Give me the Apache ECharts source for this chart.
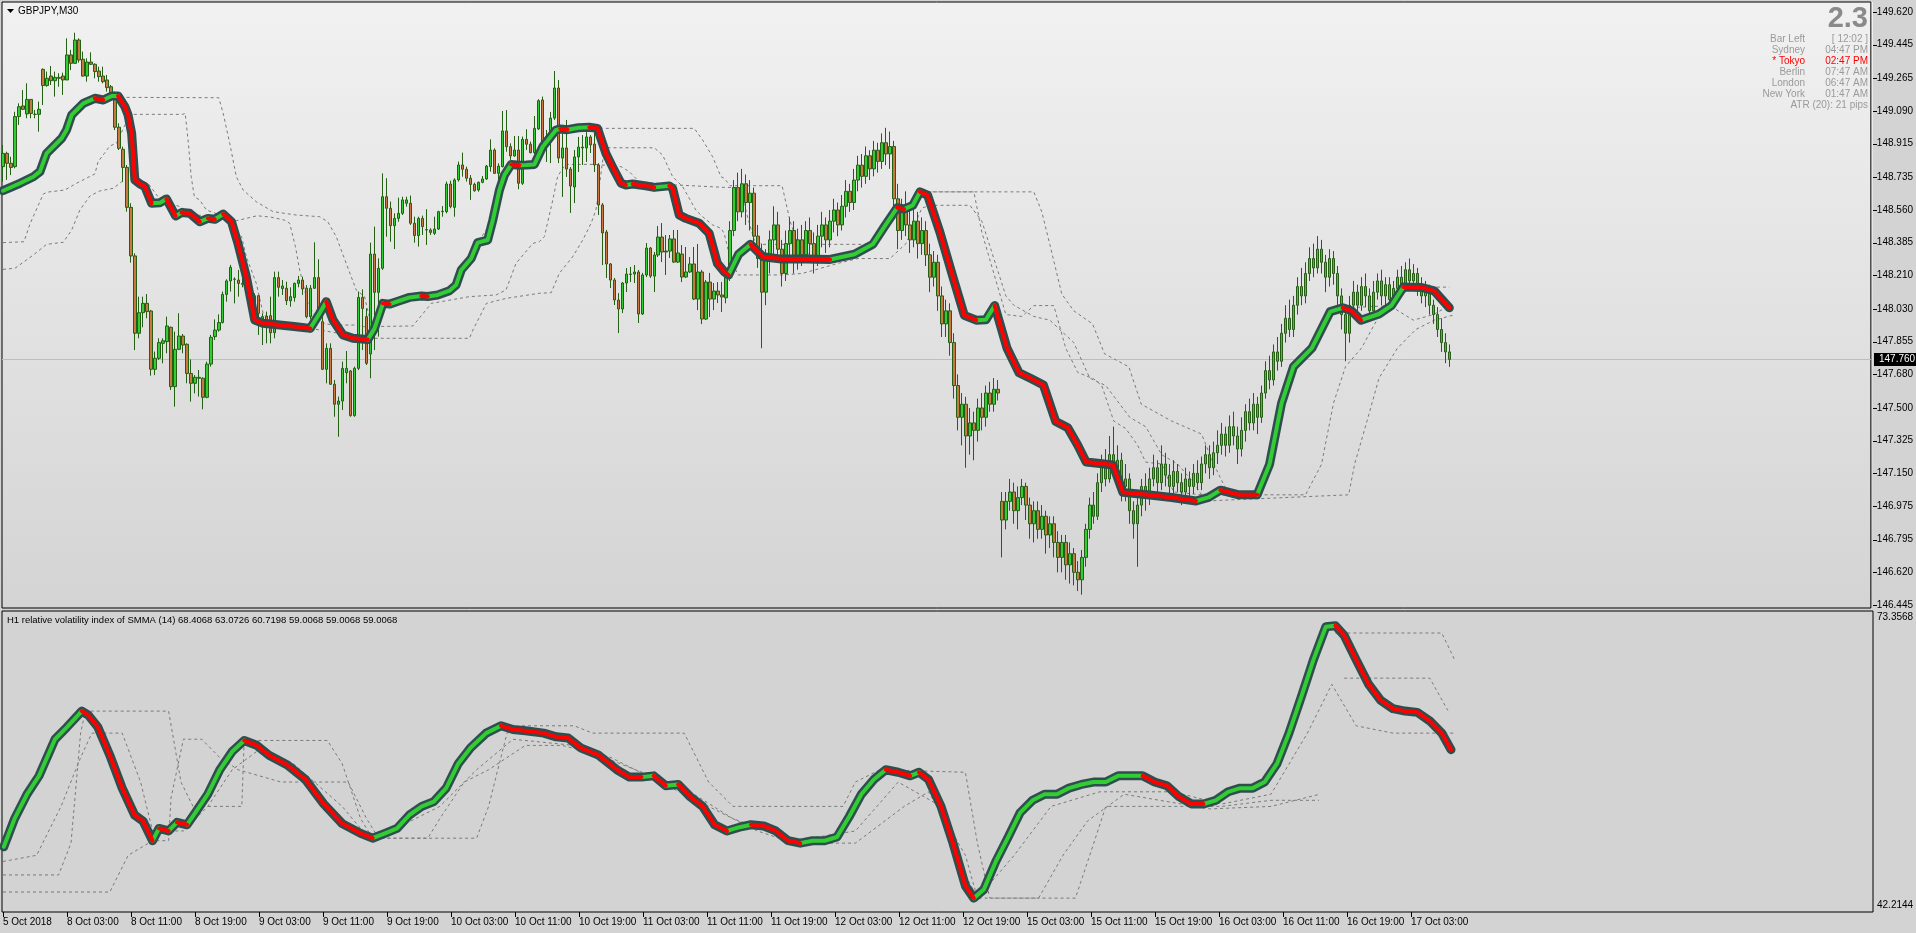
<!DOCTYPE html>
<html><head><meta charset="utf-8">
<script src="https://cdn.jsdelivr.net/npm/echarts@6.0.0/dist/echarts.min.js"></script>
<style>html,body{margin:0;padding:0;background:#d3d3d3;overflow:hidden}#c{width:1916px;height:933px}</style>
</head><body><div id="c"></div>
<script>
// ---------------- data ----------------
const opens=[148.792,148.863,148.810,148.792,149.060,149.117,149.074,149.152,149.072,149.072,
149.313,149.226,149.277,149.252,149.265,149.277,149.256,149.390,149.345,149.470,
149.367,149.277,149.352,149.340,149.304,149.277,149.256,149.220,149.188,149.003,
148.885,148.788,148.574,148.314,147.900,148.010,148.060,148.019,147.707,147.766,
147.846,147.855,147.932,147.614,147.814,147.885,147.841,147.685,147.632,147.659,
147.659,147.557,147.735,147.882,147.917,147.957,148.108,148.180,148.190,148.185,
148.167,148.162,148.135,148.060,148.101,147.974,147.992,147.994,147.903,148.198,
148.139,148.141,148.074,148.091,148.167,148.185,148.141,147.989,148.141,148.198,
147.962,147.707,147.819,147.627,147.520,147.537,147.689,147.698,147.459,147.712,
148.092,147.989,147.789,148.324,148.119,148.248,148.631,148.569,148.476,148.515,
148.542,148.596,148.596,148.489,148.423,148.515,148.455,148.453,148.435,148.458,
148.551,148.551,148.699,148.574,148.721,148.801,148.778,148.730,148.697,148.667,
148.708,148.726,148.792,148.881,148.756,148.792,148.983,148.899,148.849,148.881,
148.703,148.938,148.912,148.867,148.994,149.149,148.913,148.951,149.052,149.213,
148.838,148.892,148.779,148.683,148.844,148.897,148.892,148.951,148.913,148.801,
148.587,148.442,148.271,148.185,148.078,148.030,148.169,148.217,148.217,148.228,
148.003,148.212,148.356,148.206,148.319,148.415,148.340,148.340,148.405,148.281,
148.324,148.201,148.228,148.271,148.083,148.228,147.976,148.174,148.083,148.126,
148.105,148.09,148.20,148.45,148.68,148.55,148.70,148.60,148.65,148.42,
148.30,148.12,148.30,148.40,148.48,148.35,148.22,148.38,148.45,148.30,
148.40,148.32,148.45,148.38,148.30,148.42,148.48,148.40,148.50,148.56,
148.48,148.58,148.66,148.60,148.72,148.80,148.74,148.85,148.78,148.88,
148.82,148.92,148.86,148.90,148.62,148.45,148.55,148.48,148.40,148.50,
148.38,148.45,148.32,148.20,148.28,148.10,147.95,148.02,147.85,147.62,
147.45,147.52,147.35,147.42,147.38,147.50,147.45,147.58,147.52,147.60,
147.00,146.90,147.00,147.05,146.95,147.02,147.08,146.98,146.88,146.95,
146.85,146.92,146.82,146.88,146.78,146.70,146.78,146.66,146.72,146.62,
146.58,146.70,146.85,146.98,146.92,147.10,147.20,147.12,147.25,147.18,
147.22,147.08,147.12,146.95,146.88,146.98,147.08,147.02,147.12,147.18,
147.10,147.20,147.14,147.08,147.16,147.10,147.05,147.12,147.08,147.15,
147.10,147.20,147.25,147.18,147.26,147.30,147.36,147.30,147.40,147.35,
147.28,147.38,147.48,147.42,147.52,147.45,147.58,147.70,147.65,147.80,
147.75,147.90,147.98,147.92,148.05,148.15,148.10,148.22,148.30,148.25,
148.35,148.28,148.20,148.30,148.22,148.10,148.00,147.90,148.05,148.12,
148.05,148.15,148.10,148.02,148.12,148.18,148.10,148.16,148.08,148.14,
148.20,148.15,148.24,148.18,148.22,148.16,148.10,148.14,148.05,148.00,
147.92,147.85,147.80];
const highs=[148.908,148.872,148.845,149.086,149.131,149.202,149.238,149.152,149.095,149.140,
149.318,149.301,149.331,149.301,149.292,149.295,149.479,149.417,149.509,149.479,
149.408,149.372,149.404,149.345,149.327,149.327,149.283,149.229,149.194,149.024,
148.899,148.801,148.596,148.328,148.096,148.096,148.110,148.025,147.802,147.873,
147.873,147.989,147.935,147.909,148.007,147.896,147.846,147.760,147.676,147.703,
147.664,147.748,147.891,147.974,148.001,148.123,148.189,148.266,148.199,148.239,
148.203,148.171,148.146,148.114,148.105,148.007,148.016,148.096,148.230,148.230,
148.185,148.176,148.146,148.171,148.207,148.203,148.158,148.158,148.387,148.296,
148.007,147.846,147.846,147.650,147.561,147.748,147.805,147.703,147.721,148.123,
148.135,148.033,148.385,148.471,148.301,148.756,148.730,148.605,148.542,148.626,
148.631,148.631,148.637,148.524,148.524,148.530,148.564,148.462,148.524,148.556,
148.581,148.712,148.717,148.730,148.819,148.867,148.792,148.747,148.706,148.712,
148.742,148.801,148.938,148.890,148.810,149.090,149.095,148.917,148.956,148.956,
148.953,148.992,148.926,149.063,149.153,149.167,148.988,149.085,149.304,149.256,
148.972,149.042,148.790,148.881,148.951,148.961,148.977,148.961,148.977,148.811,
148.597,148.453,148.276,148.196,148.115,148.174,148.249,148.255,148.265,148.239,
148.223,148.383,148.362,148.335,148.474,148.490,148.426,148.426,148.453,148.453,
148.372,148.362,148.308,148.362,148.378,148.239,148.185,148.223,148.169,148.174,
148.174,148.25,148.50,148.72,148.76,148.78,148.75,148.72,148.68,148.48,
148.38,148.35,148.45,148.58,148.55,148.40,148.45,148.52,148.50,148.46,
148.48,148.50,148.52,148.44,148.48,148.55,148.52,148.56,148.62,148.60,
148.64,148.72,148.70,148.78,148.85,148.86,148.90,148.88,148.93,148.92,
148.97,149.00,148.98,148.93,148.70,148.62,148.66,148.56,148.58,148.55,
148.52,148.50,148.38,148.34,148.32,148.15,148.08,148.06,147.90,147.68,
147.58,147.56,147.50,147.48,147.55,147.58,147.62,147.64,147.66,147.65,
147.05,147.05,147.12,147.10,147.08,147.12,147.10,147.02,147.00,147.00,
146.98,146.95,146.92,146.92,146.84,146.82,146.82,146.78,146.75,146.68,
146.74,146.88,147.02,147.05,147.15,147.25,147.28,147.35,147.40,147.30,
147.26,147.20,147.15,147.00,147.05,147.12,147.15,147.18,147.25,147.22,
147.30,147.26,147.20,147.22,147.20,147.15,147.18,147.16,147.20,147.22,
147.24,147.30,147.30,147.32,147.38,147.42,147.40,147.46,147.48,147.40,
147.45,147.52,147.55,147.58,147.56,147.62,147.75,147.78,147.84,147.88,
147.95,148.05,148.08,148.10,148.20,148.25,148.28,148.36,148.38,148.42,
148.40,148.32,148.35,148.34,148.26,148.14,148.05,148.10,148.18,148.16,
148.20,148.22,148.14,148.18,148.22,148.24,148.20,148.20,148.18,148.24,
148.26,148.28,148.30,148.27,148.25,148.20,148.18,148.16,148.08,148.04,
147.98,147.90,147.84];
const lows=[148.712,148.721,148.747,148.783,149.015,149.095,149.051,149.051,149.051,148.979,
149.122,149.220,149.229,149.167,149.220,149.176,149.256,149.309,149.345,149.349,
149.274,149.247,149.336,149.265,149.247,149.238,149.194,149.176,148.988,148.881,
148.712,148.551,148.278,147.810,147.873,147.932,147.980,147.673,147.676,147.757,
147.739,147.793,147.596,147.507,147.810,147.793,147.632,147.534,147.578,147.561,
147.493,147.552,147.721,147.864,147.908,147.953,148.069,148.123,148.060,148.096,
148.146,148.123,148.060,147.989,147.891,147.837,147.846,147.846,147.873,148.096,
148.105,148.051,148.042,148.069,148.146,148.105,147.980,147.974,148.137,147.989,
147.703,147.632,147.623,147.453,147.346,147.489,147.632,147.453,147.453,147.703,
147.810,147.730,147.659,147.810,147.882,148.239,148.417,148.390,148.351,148.497,
148.533,148.578,148.480,148.385,148.364,148.426,148.373,148.426,148.426,148.453,
148.524,148.542,148.569,148.524,148.712,148.738,148.712,148.614,148.658,148.658,
148.703,148.721,148.765,148.753,148.717,148.788,148.872,148.828,148.846,148.671,
148.694,148.881,148.863,148.860,148.988,148.908,148.817,148.811,149.042,148.811,
148.630,148.737,148.544,148.597,148.763,148.801,148.817,148.865,148.763,148.533,
148.265,148.196,148.142,148.051,147.901,148.008,148.121,148.174,148.169,147.955,
147.998,148.201,148.196,148.121,148.308,148.281,148.212,148.303,148.276,148.276,
148.174,148.196,148.223,148.078,148.024,147.949,147.971,147.987,148.024,148.062,
148.014,148.06,148.18,148.42,148.50,148.52,148.48,148.45,148.38,148.25,
147.82,148.05,148.22,148.32,148.28,148.15,148.18,148.30,148.22,148.24,
148.26,148.28,148.30,148.22,148.26,148.36,148.33,148.36,148.44,148.42,
148.45,148.52,148.55,148.56,148.66,148.68,148.70,148.72,148.74,148.76,
148.78,148.80,148.78,148.55,148.35,148.40,148.42,148.33,148.36,148.30,
148.32,148.26,148.12,148.15,148.02,147.88,147.88,147.78,147.55,147.38,
147.30,147.18,147.25,147.22,147.32,147.38,147.40,147.48,147.48,147.54,
146.70,146.85,146.95,146.88,146.85,146.98,146.90,146.80,146.78,146.80,
146.80,146.72,146.75,146.70,146.62,146.62,146.58,146.56,146.55,146.52,
146.50,146.65,146.80,146.88,146.90,147.05,147.08,147.10,147.12,147.10,
147.00,147.00,146.88,146.80,146.65,146.92,146.95,146.98,147.08,147.05,
147.06,147.08,147.02,147.04,147.05,146.98,147.00,147.02,147.04,147.06,
147.06,147.15,147.12,147.14,147.20,147.25,147.24,147.26,147.30,147.20,
147.24,147.32,147.38,147.38,147.36,147.42,147.55,147.60,147.62,147.70,
147.72,147.85,147.88,147.88,148.00,148.05,148.06,148.18,148.20,148.22,
148.22,148.12,148.15,148.16,148.02,147.92,147.75,147.85,148.00,148.00,
148.02,148.04,147.96,147.98,148.08,148.05,148.04,148.02,148.04,148.10,
148.12,148.12,148.14,148.14,148.10,148.06,148.04,148.00,147.95,147.88,
147.80,147.74,147.72];
const closes=[148.863,148.810,148.788,149.060,149.113,149.099,149.152,149.077,149.072,149.099,
149.226,149.265,149.252,149.270,149.270,149.256,149.390,149.345,149.470,149.363,
149.277,149.352,149.340,149.301,149.274,149.247,149.215,149.188,149.003,148.890,
148.788,148.574,148.314,147.900,148.010,148.060,148.016,147.707,147.766,147.850,
147.860,147.939,147.614,147.814,147.885,147.837,147.685,147.632,147.664,147.664,
147.557,147.735,147.878,147.917,147.957,148.108,148.180,148.253,148.189,148.167,
148.162,148.135,148.096,148.101,148.007,147.989,147.944,147.903,148.198,148.146,
148.153,148.074,148.096,148.167,148.185,148.137,147.989,148.141,148.198,148.007,
147.707,147.819,147.627,147.520,147.537,147.712,147.712,147.459,147.712,148.092,
148.033,147.739,148.324,148.119,148.248,148.631,148.569,148.476,148.515,148.542,
148.614,148.614,148.489,148.423,148.515,148.471,148.453,148.440,148.458,148.551,
148.553,148.699,148.578,148.721,148.801,148.778,148.730,148.697,148.663,148.708,
148.726,148.795,148.881,148.756,148.795,148.983,148.899,148.849,148.881,148.703,
148.938,148.912,148.867,148.997,149.145,148.912,148.951,149.052,149.213,148.838,
148.892,148.779,148.688,148.844,148.897,148.892,148.951,148.908,148.801,148.587,
148.437,148.271,148.185,148.078,148.030,148.169,148.217,148.215,148.228,148.003,
148.212,148.356,148.206,148.319,148.415,148.335,148.335,148.405,148.281,148.330,
148.201,148.228,148.271,148.083,148.228,147.976,148.174,148.083,148.126,148.105,
148.094,148.20,148.45,148.68,148.55,148.70,148.60,148.65,148.42,148.30,
148.12,148.30,148.40,148.48,148.35,148.22,148.38,148.45,148.30,148.40,
148.32,148.45,148.38,148.30,148.42,148.48,148.40,148.50,148.56,148.48,
148.58,148.66,148.60,148.72,148.80,148.74,148.85,148.78,148.88,148.82,
148.92,148.86,148.90,148.62,148.45,148.55,148.48,148.40,148.50,148.38,
148.45,148.32,148.20,148.28,148.10,147.95,148.02,147.85,147.62,147.45,
147.52,147.35,147.42,147.38,147.50,147.45,147.58,147.52,147.60,147.58,
146.90,147.00,147.05,146.95,147.02,147.08,146.98,146.88,146.95,146.85,
146.92,146.82,146.88,146.78,146.70,146.78,146.66,146.72,146.62,146.58,
146.70,146.85,146.98,146.92,147.10,147.20,147.12,147.25,147.18,147.22,
147.08,147.12,146.95,146.88,146.98,147.08,147.02,147.12,147.18,147.10,
147.20,147.14,147.08,147.16,147.10,147.05,147.12,147.08,147.15,147.10,
147.20,147.25,147.18,147.26,147.30,147.36,147.30,147.40,147.35,147.28,
147.38,147.48,147.42,147.52,147.45,147.58,147.70,147.65,147.80,147.75,
147.90,147.98,147.92,148.05,148.15,148.10,148.22,148.30,148.25,148.35,
148.28,148.20,148.30,148.22,148.10,148.00,147.90,148.05,148.12,148.05,
148.15,148.10,148.02,148.12,148.18,148.10,148.16,148.08,148.14,148.20,
148.15,148.24,148.18,148.22,148.16,148.10,148.14,148.05,148.00,147.92,
147.85,147.80,147.76];

// thick smoothed line, main panel: [bar index, price]
const mainLine=[[0,148.663],[4.25,148.703],[7.6,148.738],[9.25,148.765],[10.9,148.863],[14.7,148.944],[15.9,148.988],[17.2,149.069],[20.1,149.131],[23,149.158],[25.1,149.149],[27.2,149.170],[28.8,149.170],[30.5,149.113],[31.3,149.069],[32.2,148.970],[33,148.721],[34.3,148.699],[35.5,148.685],[37.2,148.596],[39.3,148.599],[40.9,148.619],[43.2,148.528],[44.7,148.546],[46.75,148.542],[49.25,148.497],[51.3,148.515],[53,148.510],[55.1,148.538],[57.2,148.497],[58.8,148.381],[60.9,148.203],[63,147.971],[65.1,147.953],[69.25,147.944],[73.4,147.935],[76.9,147.926],[79.25,148.007],[80.9,148.069],[82.6,147.971],[85.1,147.891],[87.6,147.873],[90.5,147.868],[91.3,147.866],[93,147.926],[95.1,148.060],[96.75,148.056],[99.25,148.074],[101.75,148.092],[104.7,148.099],[106.3,148.097],[108.8,148.105],[111.75,148.128],[113.4,148.158],[114.7,148.239],[117.2,148.301],[118.8,148.385],[121.3,148.399],[122.6,148.506],[124.25,148.667],[125.5,148.747],[127.2,148.804],[129.25,148.800],[131,148.801],[133,148.804],[135.1,148.899],[138.4,148.988],[139.5,148.994],[141.3,148.990],[144,149.000],[146.75,149.003],[148.8,148.997],[150.9,148.863],[152.8,148.780],[154.7,148.703],[155.9,148.694],[157.6,148.699],[160.9,148.689],[163,148.681],[166.75,148.689],[167.6,148.676],[169.25,148.533],[170.9,148.515],[174.25,148.489],[176.75,148.435],[178.8,148.274],[180.5,148.230],[181.6,148.212],[184.1,148.323],[187.1,148.376],[190.2,148.310],[194.8,148.297],[200.9,148.297],[207,148.295],[213.1,148.323],[217.7,148.376],[220.7,148.474],[223.8,148.572],[225.5,148.565],[227.7,148.585],[229.5,148.657],[231.4,148.640],[234.5,148.441],[237.5,148.220],[240.6,147.996],[243.6,147.970],[246,147.972],[248.2,148.048],[251.3,147.820],[254.3,147.689],[257.4,147.656],[260.4,147.623],[263.5,147.427],[266.5,147.394],[269,147.300],[271.1,147.211],[275.7,147.200],[277.8,147.195],[280.3,147.048],[286.4,147.035],[292.5,147.021],[298.6,147.002],[301.7,147.021],[304.7,147.060],[309.3,147.035],[313.9,147.035],[317,147.198],[320,147.525],[323,147.721],[327.6,147.820],[332.2,148.016],[335.3,148.036],[337.5,148.020],[339.9,147.970],[344.4,148.003],[347.5,148.048],[350.5,148.147],[355.1,148.145],[358.2,148.127],[362,148.036]];

// dashed level lines, main panel
const mainDashA=[[0,148.663],[4.25,148.703],[9.25,148.765],[10.9,148.863],[15.9,148.988],[20.1,149.131],[23,149.158],[28.8,149.170],[30,149.163],[54,149.161],[55.1,149.078],[56.75,148.917],[58.4,148.738],[60.1,148.667],[63.4,148.604],[67.6,148.551],[73.4,148.533],[79.25,148.524],[81.3,148.497],[83.4,148.417],[85.9,148.274],[88.4,148.132],[90.5,148.096],[91.5,148.000],[93,147.926],[95.1,148.060],[99.25,148.074],[104.7,148.099],[111.75,148.128],[114.7,148.239],[118.8,148.385],[122.6,148.506],[125.5,148.747],[127.2,148.804],[133,148.804],[135.1,148.899],[138.4,148.988],[144,149.000],[146.75,149.003],[150.5,148.997],[173,148.997],[175.1,148.935],[177.6,148.845],[179.7,148.738],[180.5,148.730],[182,148.690],[195,148.690],[197,148.500],[199,148.376],[217.7,148.376],[220.7,148.474],[223.8,148.572],[227.7,148.585],[229.5,148.657],[258,148.657],[260,148.550],[262,148.376],[265,148.110],[268,148.020],[272.7,147.950],[275.7,147.790],[281.8,147.720],[284.9,147.520],[292.5,147.430],[300,147.360],[303,147.200],[306,147.070],[309.3,147.035],[313.9,147.035],[317,147.198],[320,147.525],[323,147.721],[327.6,147.820],[332.2,148.016],[335.3,148.036],[340,148.040],[347.5,148.048],[350.5,148.147],[362,148.147]];
const mainDashB=[[0,148.385],[5.25,148.390],[6.75,148.485],[10.1,148.646],[11.3,148.656],[15.5,148.667],[18.4,148.703],[23,148.753],[23.8,148.818],[26.75,148.903],[28.4,148.917],[31.75,149.072],[45,149.072],[45.6,149.078],[46.4,148.917],[47.1,148.738],[47.9,148.631],[49.25,148.613],[50.9,148.560],[53.4,148.540],[55.6,148.531],[57.6,148.498],[63.6,148.529],[67,148.522],[70.4,148.506],[71.75,148.489],[73.2,148.363],[74.25,148.239],[75.9,148.096],[77.6,148.007],[80.1,147.953],[82.6,147.944],[88.4,147.944],[90.5,147.935],[102.6,147.939],[107.2,148.060],[116.75,148.096],[123.4,148.105],[125.9,148.132],[128.4,148.274],[132.6,148.381],[134.25,148.390],[135.5,148.417],[137.6,148.613],[138.8,148.738],[140.1,148.783],[140.9,148.804],[148.4,148.804],[150.1,148.801],[154.7,148.792],[156.75,148.765],[159.25,148.711],[168.4,148.694],[180.5,148.681],[185,148.680],[186,148.550],[188,148.400],[190,148.376],[200,148.376],[202,148.310],[212,148.300],[217.7,148.376],[220.7,148.474],[223.8,148.572],[227.7,148.585],[229.5,148.657],[243,148.657],[245,148.440],[248,148.220],[251,148.000],[255,147.990],[258,148.048],[263,148.048],[266,147.820],[269,147.690],[273,147.656],[275,147.620],[278,147.430],[281,147.390],[284,147.300],[286,147.210],[290,147.200],[293,147.050],[300,147.035],[326,147.035],[330,147.198],[333,147.525],[336,147.721],[340,147.820],[345,148.016],[348,148.036],[353,147.970],[358,148.000],[362,148.048]];
const mainDashC=[[0,148.242],[3,148.248],[7.6,148.319],[10.9,148.376],[15.1,148.387],[17.2,148.453],[19.25,148.560],[21.75,148.635],[24.25,148.662],[27.6,148.676],[29.7,148.711],[33.4,148.721],[36.3,148.703],[38.8,148.631],[40.9,148.604],[43,148.587],[44.25,148.578],[47.6,148.533],[52.6,148.529],[55.1,148.542],[56.75,148.506],[59.7,148.417],[60.9,148.310],[63.4,148.167],[65.1,148.007],[65.9,147.989],[69.25,147.944],[76.9,147.926],[84,147.900],[87.6,147.873],[116.75,147.873],[117.6,147.917],[121,148.060],[126,148.087],[134.25,148.114],[137.2,148.117],[139.25,148.221],[142.6,148.310],[145.1,148.399],[147.2,148.489],[148.4,148.560],[148.8,148.613],[150.5,148.893],[163,148.893],[165.1,148.854],[167.6,148.738],[170.1,148.685],[173.4,148.560],[175.1,148.524],[177.6,148.480],[179.7,148.462],[180.5,148.435],[182,148.300],[184,148.212],[195,148.212],[200,148.220],[210,148.280],[214,148.300],[222,148.300],[226,148.380],[230,148.570],[232,148.585],[242,148.585],[245,148.500],[248,148.300],[251,148.100],[253,148.050],[258,147.990],[262,147.970],[268,147.850],[272,147.660],[276,147.620],[282,147.450],[286,147.400],[290,147.250],[294,147.200],[298,147.100],[301,147.002],[336.8,147.035],[338.3,147.200],[341.4,147.430],[344.4,147.660],[349,147.820],[353.6,147.920],[358.2,147.970],[362.8,147.996]];

// lower panel: relative volatility index of SMMA(14)
const rviLine=[[0.2,48.96],[2.9,51.87],[6,54.40],[9,56.30],[13,60.09],[16,61.35],[19.7,63.00],[21.25,62.62],[23.7,61.35],[26.7,58.44],[29.8,55.03],[32.9,52.25],[35,51.62],[37.4,49.59],[39,50.86],[41.4,50.60],[43.5,51.49],[46,51.24],[48.1,52.50],[51.2,54.40],[54.2,56.93],[57.3,58.82],[60.3,59.96],[63.4,59.46],[66.5,58.44],[71.1,57.43],[75.6,55.92],[80.2,53.39],[84.8,51.36],[89.4,50.35],[92.4,49.85],[95.5,50.35],[98.5,50.86],[101.6,52.25],[104.7,53.14],[107.7,53.64],[110.8,55.03],[113.8,57.56],[116.9,59.20],[120.8,60.72],[124.5,61.48],[127.5,61.10],[130.6,60.97],[135.2,60.72],[138.3,60.34],[141.3,60.21],[144.4,59.20],[148.9,58.44],[153.5,56.93],[156.6,56.17],[159.6,56.17],[162.7,56.30],[165.7,55.28],[168.8,55.41],[171.8,54.14],[174.9,53.14],[177.9,51.24],[181,50.60],[184.1,50.99],[187,51.24],[190.2,51.11],[193.2,50.60],[196.3,49.59],[199.3,49.34],[202.4,49.59],[205.4,49.59],[208.5,49.97],[211.6,52.12],[214.6,54.40],[217.7,55.92],[220.7,56.93],[223.8,56.67],[226.8,56.30],[229,56.67],[231.4,55.92],[234.5,53.14],[237.5,49.34],[240.6,44.92],[242.7,43.65],[245.2,44.54],[248.2,47.44],[251.3,49.97],[254.3,52.50],[257.4,53.77],[260.4,54.40],[263.5,54.40],[266.5,55.03],[269.6,55.41],[272.6,55.66],[275.7,55.66],[278.8,56.30],[281.8,56.30],[284.9,56.30],[287.9,55.66],[291,55.28],[294,54.14],[297.1,53.39],[300.1,53.39],[303.2,53.77],[306.3,54.65],[309.3,55.03],[312.4,55.03],[315.4,55.66],[318.5,57.56],[321.5,60.72],[324.6,64.51],[327.6,68.30],[330.7,71.72],[333.1,71.84],[335.3,70.83],[338.3,68.30],[341.4,65.77],[344.4,64.13],[347.5,63.25],[350.5,63.00],[353.6,62.87],[356.7,61.98],[359.7,60.72],[362,59.01]];
const rviDashA=[[0,46.05],[13.9,46.05],[17,49.34],[19.4,60.72],[20.6,63.0],[41.4,63.0],[44.5,55.66],[47.5,53.14],[59.7,53.14],[60.3,59.96],[81.1,59.96],[84.8,57.56],[89.4,51.87],[92.4,49.85],[118.4,49.85],[121.4,53.14],[126,60.72],[129.1,61.48],[142.8,61.48],[147.4,60.72],[170.3,60.72],[176.4,55.66],[182.5,53.14],[210,53.14],[213.1,55.66],[219.2,56.93],[240.6,56.67],[243.6,49.34],[246.7,43.65],[268.1,43.65],[272.7,49.34],[275.7,53.14],[304.7,53.14],[317,53.77],[329,53.77],[332,null],[333.1,71.08],[359.7,71.08],[362.8,68.41]];
const rviDashB=[[0,44.28],[26.7,44.28],[31.3,48.08],[37.4,49.59],[41.4,49.59],[42,54.0],[45.1,60.09],[49.7,60.09],[54.2,58.19],[58.8,56.93],[69.5,55.66],[86.3,55.66],[90.9,51.87],[93.9,49.85],[106.2,49.85],[109.2,51.87],[115.3,55.66],[121.4,56.93],[130.6,59.45],[139.8,59.45],[152,58.19],[164.2,55.66],[176.4,53.14],[188.6,50.60],[197.8,49.34],[213.1,49.34],[225.3,53.14],[231.4,54.65],[240.6,48.08],[243.6,43.65],[258.9,43.65],[265,48.08],[271.1,51.62],[280.3,54.40],[301.7,52.88],[317,53.14],[329.2,54.40],[332,null],[335.3,66.41],[356.7,66.41],[361.2,63.07]];
const rviDashC=[[0,47.44],[8.4,48.08],[14.5,53.14],[19.4,58.19],[22.2,60.72],[29.8,60.72],[34.4,55.66],[37.4,50.60],[45.1,50.60],[51.2,53.14],[57.3,56.93],[63.4,58.82],[72.6,57.56],[84.8,53.14],[90.9,50.10],[97,50.60],[109.2,53.14],[118.4,56.93],[127.5,60.09],[142.8,59.45],[158.1,56.93],[170.3,55.03],[182.5,51.87],[197.8,49.59],[213.1,50.60],[223.8,55.66],[234.5,53.14],[240.6,46.05],[243.6,43.65],[252.8,48.08],[262,53.14],[274.2,54.65],[292.5,54.65],[304.7,53.39],[317,54.40],[326.1,60.72],[332.2,65.77],[338.3,61.48],[347.5,60.72],[362.8,60.72]];

// axis ticks / labels
const timeTickIdx=[0,16,32,48,64,80,96,112,128,144,160,176,192,208,224,240,256,272,288,304,320,336,352];
const timeTickLabels=['5 Oct 2018','8 Oct 03:00','8 Oct 11:00','8 Oct 19:00','9 Oct 03:00','9 Oct 11:00','9 Oct 19:00','10 Oct 03:00','10 Oct 11:00','10 Oct 19:00','11 Oct 03:00','11 Oct 11:00','11 Oct 19:00','12 Oct 03:00','12 Oct 11:00','12 Oct 19:00','15 Oct 03:00','15 Oct 11:00','15 Oct 19:00','16 Oct 03:00','16 Oct 11:00','16 Oct 19:00','17 Oct 03:00'];
const priceTicks=[146.445,146.620,146.795,146.975,147.150,147.325,147.500,147.680,147.855,148.030,148.210,148.385,148.560,148.735,148.915,149.090,149.265,149.445,149.620];
const rviRange=[42.2144,73.3568];
const priceRange=[146.429,149.6735];
const lastPrice=147.760;
const infoLeft=['Bar Left','Sydney','* Tokyo','Berlin','London','New York'];
const infoRight=['[ 12:02 ]','04:47 PM','02:47 PM','07:47 AM','06:47 AM','01:47 AM'];
const infoHighlight=2;
const spreadText='2.3';
const atrText='ATR (20): 21 pips';
const symbolTitle='GBPJPY,M30';
const rviTitle='H1 relative volatility index of SMMA (14) 68.4068 63.0726 60.7198 59.0068 59.0068 59.0068';

// ---------------- chart ----------------
const FONT='Liberation Sans, Arial, sans-serif';
const candleData=opens.map((o,i)=>[i,o,closes[i],lows[i],highs[i]]);
const labelMap={}; timeTickIdx.forEach((v,k)=>labelMap[v]=timeTickLabels[k]);

function splitDir(pts){
  const up=[],dn=[];let prev=1,lastUp=-1,lastDn=-1;
  for(let k=0;k<pts.length-1;k++){
    const d=pts[k+1][1]-pts[k][1];
    const dir=d>1e-9?1:(d<-1e-9?-1:prev);prev=dir;
    if(dir>0){ if(lastUp!==k){ if(up.length) up.push([pts[k][0],null]); up.push(pts[k]); } up.push(pts[k+1]); lastUp=k+1; }
    else { if(lastDn!==k){ if(dn.length) dn.push([pts[k][0],null]); dn.push(pts[k]); } dn.push(pts[k+1]); lastDn=k+1; }
  }
  return [up,dn];
}
const [mainUp,mainDn]=splitDir(mainLine);
const [rviUp,rviDn]=splitDir(rviLine);

function dashed(data,xi,yi){return {type:'line',xAxisIndex:xi,yAxisIndex:yi,data,symbol:'none',silent:true,connectNulls:false,z:1,
  lineStyle:{color:'#7a7a7a',width:1,type:[3,3]}};}
function thick(data,xi,yi,color,w,z){return {type:'line',xAxisIndex:xi,yAxisIndex:yi,data,symbol:'none',silent:true,connectNulls:false,z,
  lineStyle:{color,width:w,cap:'round',join:'round'}};}

const chart=echarts.init(document.getElementById('c'),null,{width:1916,height:933});
const option={
  animation:false,
  backgroundColor:'#d3d3d3',
  grid:[
    {left:2,right:43,top:2,height:606,show:true,borderColor:'#000',borderWidth:1,backgroundColor:'transparent'},
    {left:2,right:43,top:611,height:301,show:true,borderColor:'#000',borderWidth:1,backgroundColor:'transparent'}
  ],
  xAxis:[
    {gridIndex:0,type:'value',min:-0.25,max:467.5,show:false},
    {gridIndex:1,type:'value',min:-0.25,max:467.5,position:'bottom',
     axisLine:{show:false},
     axisTick:{show:false},
     axisLabel:{show:true,customValues:timeTickIdx,formatter:v=>labelMap[Math.round(v)]||'',align:'left',margin:5,color:'#000',fontSize:10,fontFamily:FONT},
     splitLine:{show:false}}
  ],
  yAxis:[
    {gridIndex:0,type:'value',position:'right',min:priceRange[0],max:priceRange[1],
     axisLine:{show:false},
     axisTick:{show:false},
     axisLabel:{show:true,customValues:priceTicks,formatter:v=>v.toFixed(3),margin:6,color:'#000',fontSize:10,fontFamily:FONT},
     splitLine:{show:false}},
    {gridIndex:1,type:'value',position:'right',min:rviRange[0],max:rviRange[1],
     axisLine:{show:false},axisTick:{show:false},axisLabel:{show:false},splitLine:{show:false}}
  ],
  series:[
    dashed(mainDashA,0,0),dashed(mainDashB,0,0),dashed(mainDashC,0,0),
    {type:'candlestick',xAxisIndex:0,yAxisIndex:0,data:candleData,encode:{x:0,y:[1,2,3,4]},barWidth:3,z:2,silent:true,
     itemStyle:{color:'#32cd32',color0:'#c8793f',borderColor:'#255f16',borderColor0:'#255f16',borderWidth:1},
     markLine:{silent:true,symbol:['none','none'],label:{show:false},lineStyle:{color:'#bdbdbd',width:1,type:'solid'},data:[{yAxis:lastPrice}],z:1}},
    thick(mainLine,0,0,'#2f4f4f',9,3),
    thick(mainUp,0,0,'#32cd32',4,4),
    thick(mainDn,0,0,'#ff0000',4,4),
    dashed(rviDashA,1,1),dashed(rviDashB,1,1),dashed(rviDashC,1,1),
    thick(rviLine,1,1,'#2f4f4f',9,3),
    thick(rviUp,1,1,'#32cd32',4,4),
    thick(rviDn,1,1,'#ff0000',4,4)
  ]
};
chart.setOption(option);

const yLast=chart.convertToPixel({yAxisIndex:0},lastPrice);
const g=[
  {type:'rect',z:-10,silent:true,shape:{x:2,y:2,width:1871,height:606},
   style:{fill:new echarts.graphic.LinearGradient(0,0,0,1,[{offset:0,color:'#f1f1f1'},{offset:1,color:'#d4d4d4'}])}},
  {type:'polygon',silent:true,shape:{points:[[7,9],[14,9],[10.5,13]]},style:{fill:'#000'}},
  {type:'text',silent:true,style:{text:symbolTitle,x:18,y:11,fill:'#000',font:'10px '+FONT,verticalAlign:'middle'}},
  {type:'text',silent:true,style:{text:spreadText,x:1868,y:19,fill:'#8a8a8a',font:'bold 29px '+FONT,align:'right',verticalAlign:'middle'}},
  {type:'text',silent:true,style:{text:atrText,x:1868,y:105,fill:'#9a9a9a',font:'10px '+FONT,align:'right',verticalAlign:'middle'}},
  {type:'text',silent:true,style:{text:rviTitle,x:7,y:620,fill:'#000',font:'9.5px '+FONT,verticalAlign:'middle'}},
  {type:'text',silent:true,style:{text:rviRange[1].toFixed(4),x:1877,y:617,fill:'#000',font:'10px '+FONT,verticalAlign:'middle'}},
  {type:'text',silent:true,style:{text:rviRange[0].toFixed(4),x:1877,y:905,fill:'#000',font:'10px '+FONT,verticalAlign:'middle'}},
  {type:'rect',silent:true,z:10,shape:{x:1874,y:Math.round(yLast)-6,width:42,height:13},style:{fill:'#000'}},
  {type:'text',silent:true,z:11,style:{text:lastPrice.toFixed(3),x:1879,y:Math.round(yLast)+0.5,fill:'#fff',font:'10px '+FONT,verticalAlign:'middle'}}
];
// price-axis tick marks at the label values (positions from the axis scale)
priceTicks.forEach(v=>{
  const y=Math.round(chart.convertToPixel({yAxisIndex:0},v))+0.5;
  g.push({type:'line',silent:true,shape:{x1:1873,y1:y,x2:1877,y2:y},style:{stroke:'#000',lineWidth:1}});
});
// time-axis tick marks
timeTickIdx.forEach(v=>{
  const x=Math.round(chart.convertToPixel({xAxisIndex:1},v))+0.5;
  g.push({type:'line',silent:true,shape:{x1:x,y1:912,x2:x,y2:917},style:{stroke:'#000',lineWidth:1}});
});
infoLeft.forEach((t,k)=>{
  const col=k===infoHighlight?'#ff0000':'#9a9a9a';
  g.push({type:'text',silent:true,style:{text:t,x:1805,y:39+k*11,fill:col,font:'10px '+FONT,align:'right',verticalAlign:'middle'}});
  g.push({type:'text',silent:true,style:{text:infoRight[k],x:1868,y:39+k*11,fill:col,font:'10px '+FONT,align:'right',verticalAlign:'middle'}});
});
chart.setOption({graphic:g});
</script>
</body></html>
